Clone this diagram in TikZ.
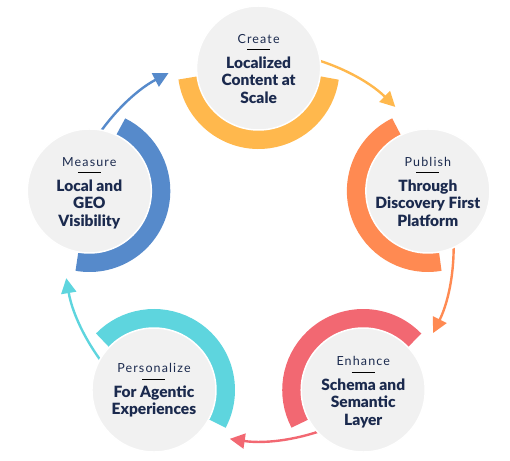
\documentclass[tikz,border=0pt]{standalone}
\usepackage{fontspec}
\setmainfont{Lato}
\newfontfamily\lblfont[LetterSpace=9]{Lato}
\IfFontExistsTF{Lato Black}{\newfontfamily\ttlfont{Lato Black}}{\newfontfamily\ttlfont[FakeBold=0.4]{Lato Bold}}
\usetikzlibrary{calc,arrows.meta}
\definecolor{cYel}{HTML}{FFB84D}
\definecolor{cOra}{HTML}{FF8A52}
\definecolor{cPnk}{HTML}{F26872}
\definecolor{cCya}{HTML}{5ED5DE}
\definecolor{cBlu}{HTML}{568ACB}
\definecolor{diskgray}{HTML}{F1F1F1}
\definecolor{navy}{HTML}{1B2A4E}
\newcommand\stage[6]{%
  \coordinate (#1-c) at ($(O)+(#2:178)$);
  \draw[band=#3] ($(#1-c)+(#2+98:70.5)$) arc[start angle=#2+98, end angle=#2+262, radius=70.5];
  \node[disk] (#1) at (#1-c) {};
  \node[lbl] (#1-lbl) at ($(#1-c)+(0,#6)$) {#4};
  \draw[rulestyle] ($(#1-c)+(-11.5,#6-11)$) -- ++(23,0);
  \node[ttl, anchor=north] (#1-ttl) at ($(#1-c)+(0,#6-17.5)$) {#5};
}
\begin{document}
\begin{tikzpicture}[x=1pt,y=1pt,
  disk/.style={circle, fill=diskgray, draw=white, line width=1.5pt, minimum size=124pt, inner sep=0},
  band/.style={line width=21pt, draw=#1},
  flow/.style={line width=2.4pt, draw=#1, -{Triangle[length=15pt,width=15pt]}},
  lbl/.style={font=\lblfont\fontsize{12.5}{14}\selectfont, text=navy, inner sep=0},
  ttl/.style={font=\ttlfont\fontsize{15.5}{17.5}\selectfont, text=navy, align=center, inner sep=0},
  rulestyle/.style={line width=1pt, draw=black},
]
\useasboundingbox (0,0) rectangle (510,460);
\coordinate (O) at (258.6,214);
% connectors
\draw[flow=cYel] ($(O)+(78:195)$) arc[start angle=78, end angle=45.5, radius=195];
\draw[flow=cOra] ($(O)+(6:195)$) arc[start angle=6, end angle=-26.5, radius=195];
\draw[flow=cPnk] ($(O)+(-66:195)$) arc[start angle=-66, end angle=-98.5, radius=195];
\draw[flow=cCya] ($(O)+(222:195)$) arc[start angle=222, end angle=189.5, radius=195];
\draw[flow=cBlu] ($(O)+(150:195)$) arc[start angle=150, end angle=117.5, radius=195];
% stages
\stage{create}{90}{cYel}{Create}{Localized\\Content at\\Scale}{29}
\stage{publish}{18}{cOra}{Publish}{Through\\Discovery First\\Platform}{29}
\stage{enhance}{-54}{cPnk}{Enhance}{Schema and\\Semantic\\Layer}{29}
\stage{personalize}{-126}{cCya}{Personalize}{For Agentic\\Experiences}{22}
\stage{measure}{162}{cBlu}{Measure}{Local and\\GEO\\Visibility}{29}
\end{tikzpicture}
\end{document}
